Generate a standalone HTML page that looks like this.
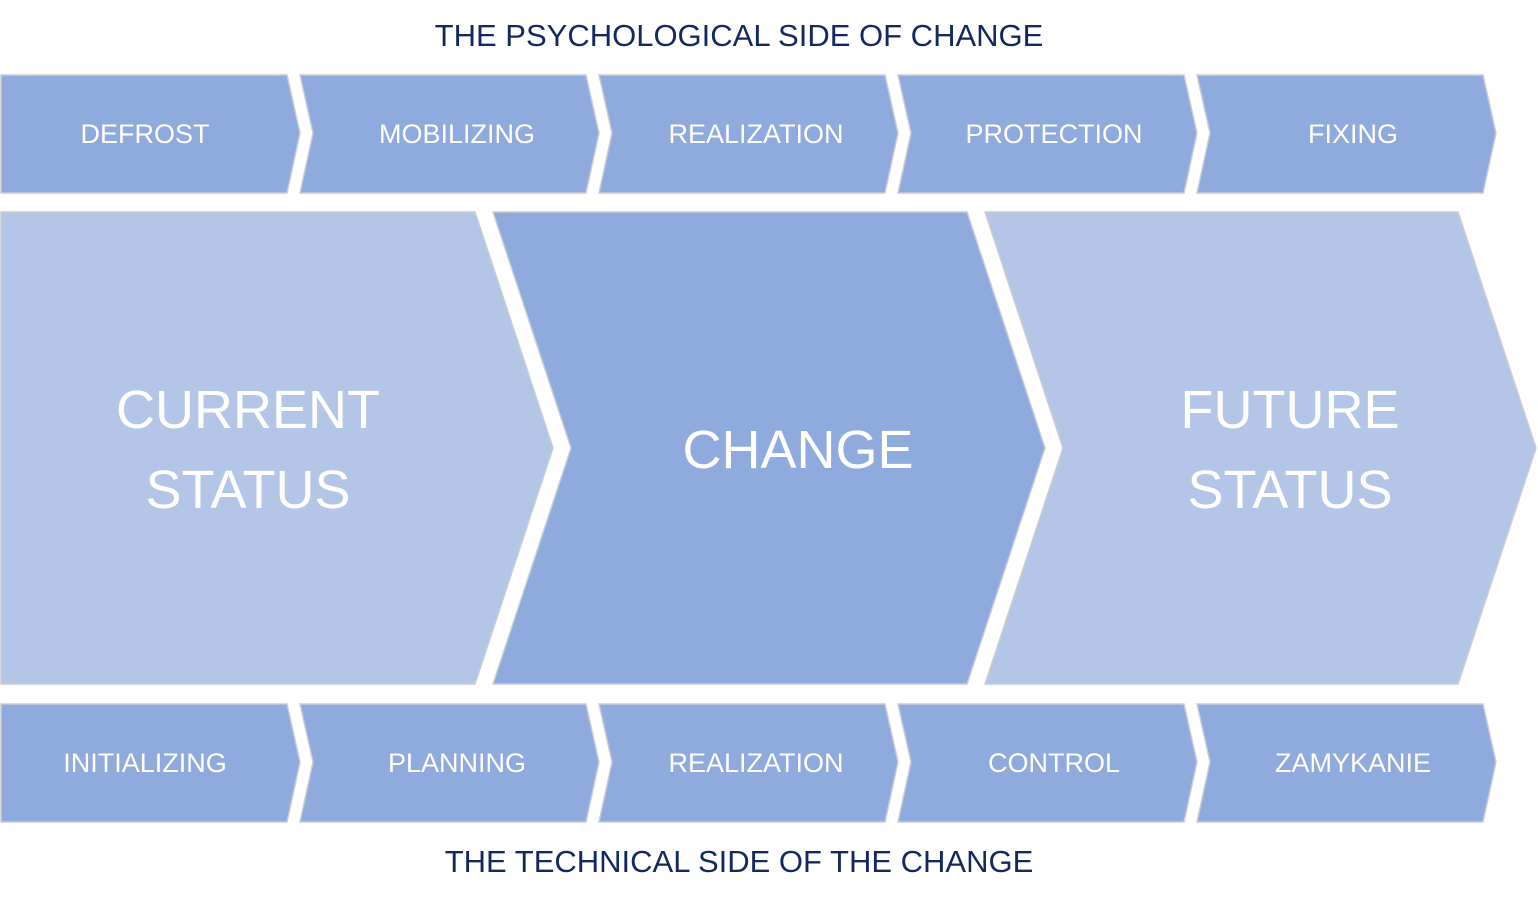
<!DOCTYPE html>
<html><head><meta charset="utf-8"><style>
html,body{margin:0;padding:0;background:#fff;}
svg text{font-family:"Liberation Sans",sans-serif;}
</style></head><body>
<svg width="1538" height="904" viewBox="0 0 1538 904" xmlns="http://www.w3.org/2000/svg">
<g stroke="#c8ccd4" stroke-width="1.5">
<polygon points="1,75 287,75 300,133 287,193 1,193" fill="#8faadc"/>
<polygon points="300,75 586,75 599,133 586,193 300,193 313,133" fill="#8faadc"/>
<polygon points="599,75 885,75 898,133 885,193 599,193 612,133" fill="#8faadc"/>
<polygon points="898,75 1184,75 1197,133 1184,193 898,193 911,133" fill="#8faadc"/>
<polygon points="1197,75 1483,75 1496,133 1483,193 1197,193 1210,133" fill="#8faadc"/>
<polygon points="1,704 287,704 300,762 287,822 1,822" fill="#8faadc"/>
<polygon points="300,704 586,704 599,762 586,822 300,822 313,762" fill="#8faadc"/>
<polygon points="599,704 885,704 898,762 885,822 599,822 612,762" fill="#8faadc"/>
<polygon points="898,704 1184,704 1197,762 1184,822 898,822 911,762" fill="#8faadc"/>
<polygon points="1197,704 1483,704 1496,762 1483,822 1197,822 1210,762" fill="#8faadc"/>
<polygon points="1,212 475,212 553,448 475,684 1,684" fill="#b4c6e7"/>
<polygon points="493,212 967,212 1045,448 967,684 493,684 571,448" fill="#8faadc"/>
<polygon points="985,212 1458,212 1536,448 1458,684 985,684 1063,448" fill="#b4c6e7"/>
</g>
<g fill="#fff" font-size="27" text-anchor="middle">
<text x="145" y="143">DEFROST</text>
<text x="457" y="143">MOBILIZING</text>
<text x="756" y="143">REALIZATION</text>
<text x="1054" y="143">PROTECTION</text>
<text x="1353" y="143">FIXING</text>
<text x="145" y="772">INITIALIZING</text>
<text x="457" y="772">PLANNING</text>
<text x="756" y="772">REALIZATION</text>
<text x="1054" y="772">CONTROL</text>
<text x="1353" y="772">ZAMYKANIE</text>
</g>
<g fill="#fff" font-size="54" text-anchor="middle">
<text x="248" y="428">CURRENT</text>
<text x="248" y="508">STATUS</text>
<text x="798" y="468">CHANGE</text>
<text x="1290" y="428">FUTURE</text>
<text x="1290" y="508">STATUS</text>
</g>
<g fill="#13285e" font-size="31" text-anchor="middle">
<text x="739" y="46">THE PSYCHOLOGICAL SIDE OF CHANGE</text>
<text x="739" y="872">THE TECHNICAL SIDE OF THE CHANGE</text>
</g>
</svg>
</body></html>
